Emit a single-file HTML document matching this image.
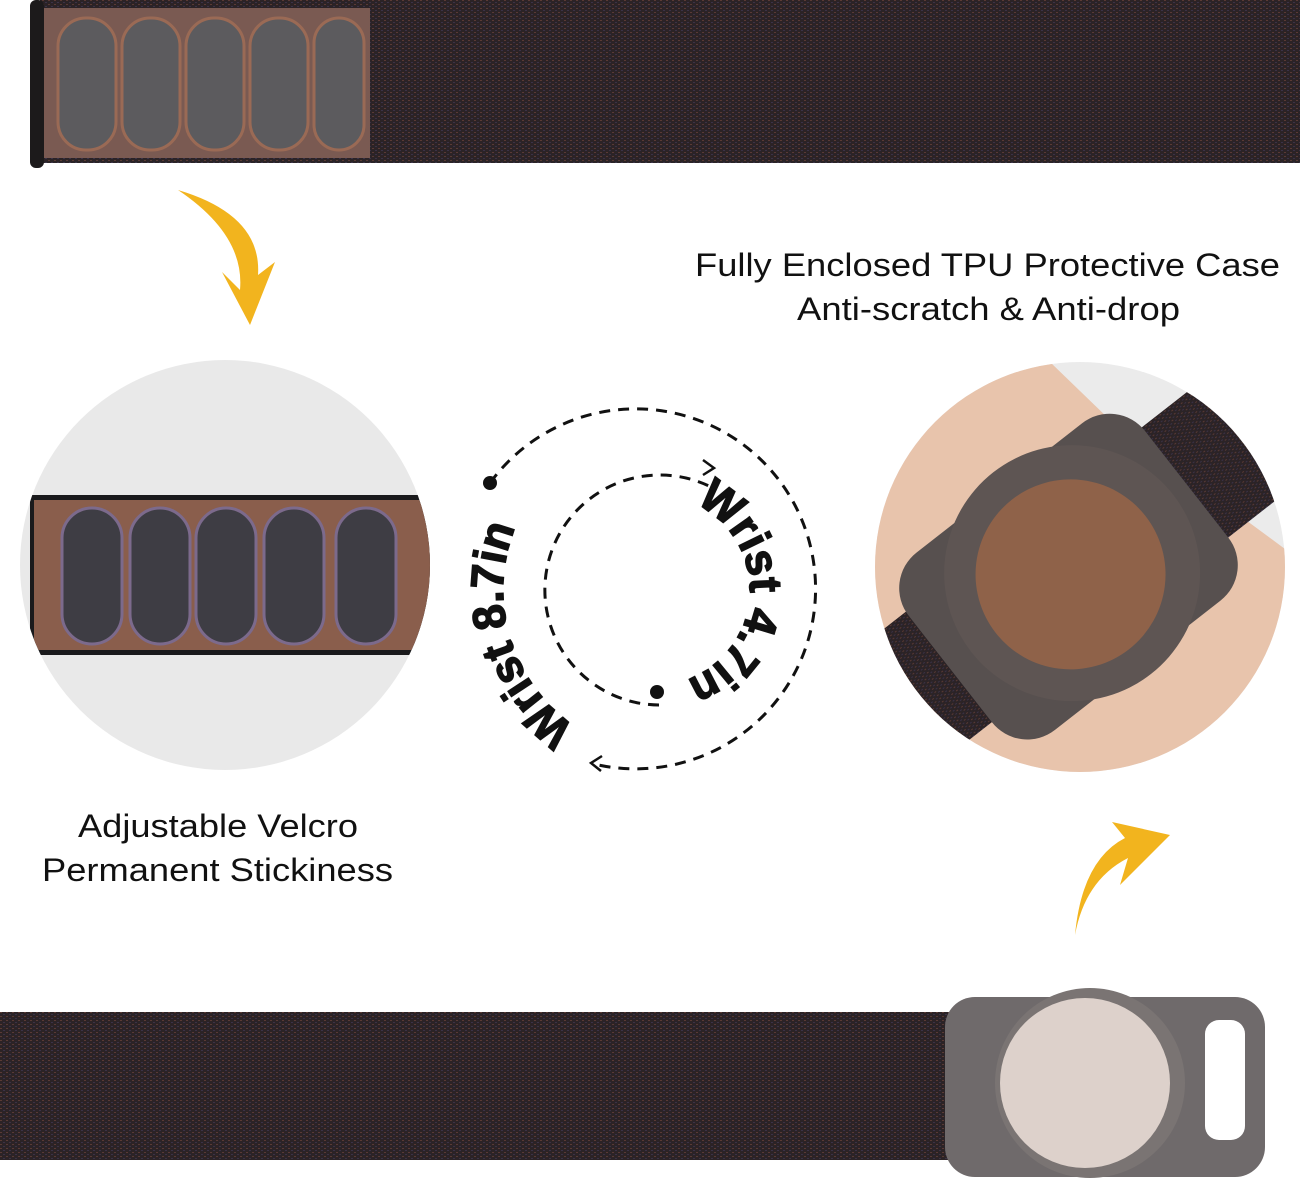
<!DOCTYPE html>
<html><head><meta charset="utf-8"><style>
html,body{margin:0;padding:0;background:#fff;}
svg{display:block;}
</style></head><body>
<svg width="1300" height="1204" viewBox="0 0 1300 1204" xmlns="http://www.w3.org/2000/svg">
<defs>
<clipPath id="lc"><circle cx="225" cy="565" r="205"/></clipPath>
<clipPath id="rc"><circle cx="1080" cy="567" r="205"/></clipPath>
<pattern id="fab" width="6" height="4" patternUnits="userSpaceOnUse">
<rect width="6" height="4" fill="#2b2326"/><rect x="0" y="0" width="2" height="1" fill="#5a3a34"/><rect x="3" y="2" width="2" height="1" fill="#3a3248"/>
</pattern>
</defs>

<!-- top strap -->
<rect x="40" y="0" width="1260" height="163" fill="url(#fab)"/>
<rect x="30" y="0" width="14" height="168" rx="6" fill="#1c1a1b"/>
<rect x="44" y="8" width="326" height="150" fill="#7a5a52"/>
<g fill="#5c5b5e" stroke="#9a6a55" stroke-width="3">
<rect x="58" y="18" width="58" height="132" rx="28"/>
<rect x="122" y="18" width="58" height="132" rx="28"/>
<rect x="186" y="18" width="58" height="132" rx="28"/>
<rect x="250" y="18" width="58" height="132" rx="28"/>
<rect x="314" y="18" width="50" height="132" rx="25"/>
</g>

<!-- yellow arrow top -->
<path d="M178 190 Q245 235 240 290 L222 272 L250 325 L275 262 L258 275 Q262 215 178 190 Z" fill="#f2b41e"/>

<!-- left circle -->
<circle cx="225" cy="565" r="205" fill="#e9e9e9"/>
<g clip-path="url(#lc)">
<rect x="30" y="495" width="420" height="160" fill="#1a1a1c"/>
<rect x="34" y="500" width="420" height="150" fill="#8a5e4c"/>
<g fill="#3e3d44" stroke="#7c6a8c" stroke-width="3">
<rect x="62" y="508" width="60" height="136" rx="30"/>
<rect x="130" y="508" width="60" height="136" rx="30"/>
<rect x="196" y="508" width="60" height="136" rx="30"/>
<rect x="264" y="508" width="60" height="136" rx="30"/>
<rect x="336" y="508" width="60" height="136" rx="30"/>
</g>
</g>

<g font-family="Liberation Sans, sans-serif" font-size="32" fill="#111" lengthAdjust="spacingAndGlyphs">
<text x="78" y="837" textLength="280" lengthAdjust="spacingAndGlyphs">Adjustable Velcro</text>
<text x="42" y="881" textLength="351" lengthAdjust="spacingAndGlyphs">Permanent Stickiness</text>
<text x="695" y="276" textLength="585" lengthAdjust="spacingAndGlyphs">Fully Enclosed TPU Protective Case</text>
<text x="797" y="320" textLength="383" lengthAdjust="spacingAndGlyphs">Anti-scratch &amp; Anti-drop</text>
</g>

<!-- right circle -->
<circle cx="1080" cy="567" r="205" fill="#ebebeb"/>
<g clip-path="url(#rc)">
<polygon points="860,400 1050,362 1110,420 1300,560 1290,780 860,780" fill="#e8c4ac"/>
<g transform="rotate(-38 1080 567)">
<rect x="840" y="495" width="480" height="140" fill="url(#fab)"/>
<rect x="915" y="455" width="300" height="225" rx="45" fill="#57504f"/>
<circle cx="1070" cy="567" r="128" fill="#5e5553"/>
<circle cx="1068" cy="567" r="95" fill="#8f6249"/>
</g>
</g>

<!-- dashed circles -->
<g fill="none" stroke="#111" stroke-width="3" stroke-dasharray="11 8">
<path d="M 659 705 A 115 115 0 1 1 711 487"/>
<path d="M 490 483 A 180 180 0 1 1 594 764"/>
</g>
<circle cx="657" cy="692" r="7" fill="#111"/>
<circle cx="490" cy="483" r="7" fill="#111"/>
<path d="M703 460 L714 468 L703 475" fill="none" stroke="#111" stroke-width="2.5"/>
<path d="M602 756 L591 763 L601 771" fill="none" stroke="#111" stroke-width="2.5"/>

<path id="ip" d="M 655 590 m -95 0 a 95 95 0 1 1 190 0 a 95 95 0 1 1 -190 0" fill="none"/>
<path id="op" d="M 585.5 732.9 A 165 165 0 1 1 750.5 447.1 A 165 165 0 1 1 585.5 732.9" fill="none"/>
<text font-family="Liberation Sans Narrow, Liberation Sans, sans-serif" font-weight="bold" font-size="46" fill="#111" stroke="#111" stroke-width="1.5">
<textPath href="#ip" startOffset="190" textLength="225" lengthAdjust="spacingAndGlyphs">Wrist 4.7in</textPath></text>
<text font-family="Liberation Sans Narrow, Liberation Sans, sans-serif" font-weight="bold" font-size="46" fill="#111" stroke="#111" stroke-width="1.5">
<textPath href="#op" startOffset="12" textLength="225" lengthAdjust="spacingAndGlyphs">Wrist 8.7in</textPath></text>

<!-- yellow arrow bottom -->
<path d="M1075 935 Q1085 880 1128 858 L1120 885 L1170 835 L1112 822 L1125 838 Q1082 860 1075 935 Z" fill="#f2b41e"/>

<!-- bottom strap -->
<rect x="0" y="1012" width="980" height="148" fill="url(#fab)"/>
<rect x="945" y="997" width="320" height="180" rx="30" fill="#6f6a6b"/>
<rect x="1205" y="1020" width="40" height="120" rx="14" fill="#fff"/>
<circle cx="1090" cy="1083" r="95" fill="#7a7473"/>
<circle cx="1085" cy="1083" r="85" fill="#ddd1cb"/>
</svg>
</body></html>
